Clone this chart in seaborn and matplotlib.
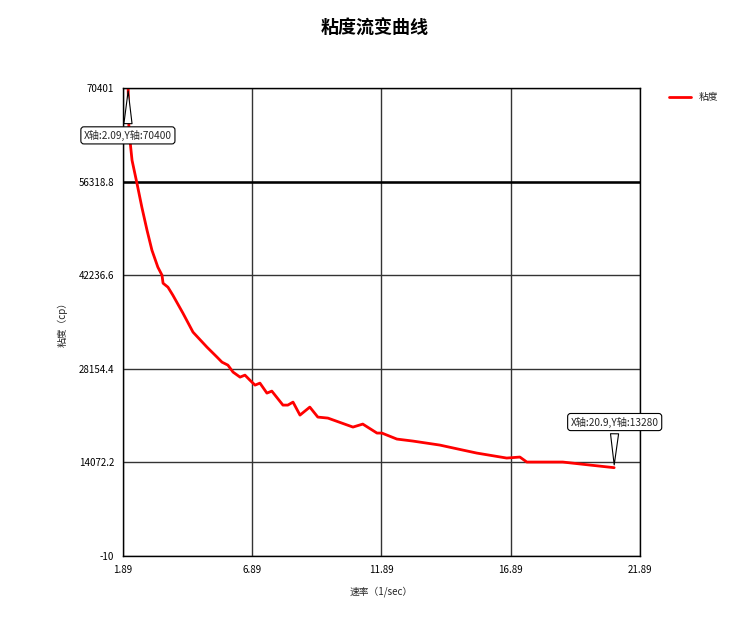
import matplotlib
matplotlib.use("Agg")
import matplotlib.pyplot as plt
import pandas as pd
import seaborn as sns

# shear rate (1/sec) and viscosity (cp)
rate = [2.09, 2.12, 2.24, 2.43, 2.62, 2.82, 3.01, 3.24, 3.40, 3.44, 3.63, 3.82,
        4.21, 4.60, 5.14, 5.53, 5.72, 5.95, 6.15, 6.42, 6.61, 6.80, 7.00, 7.19,
        7.46, 7.65, 8.08, 8.27, 8.47, 8.74, 9.12, 9.43, 9.82, 10.79, 11.17, 11.72,
        11.91, 12.49, 13.11, 14.15, 15.04, 15.58, 16.74, 17.25, 17.52, 18.91,
        19.96, 20.9]
viscosity = [70400, 64060, 59548, 56089, 52480, 49020, 46012, 43456, 42252, 41049,
             40448, 39244, 36537, 33680, 31424, 29920, 29168, 28716, 27664, 26912,
             27212, 26460, 25708, 26009, 24505, 24806, 22700, 22700, 23152, 21196,
             22400, 20896, 20745, 19392, 19843, 18489, 18489, 17587, 17286, 16684,
             15932, 15481, 14729, 14880, 14128, 14128, 13676, 13280]

x_ticks = [1.89, 6.89, 11.89, 16.89, 21.89]
y_ticks = [-10, 14072.2, 28154.4, 42236.6, 56318.8, 70401]
y_tick_labels = ["-10", "14072.2", "28154.4", "42236.6", "56318.8", "70401"]

df = pd.DataFrame({"rate": rate, "viscosity": viscosity})

sns.set_style("white")
plt.rcParams["font.family"] = ["Noto Sans CJK SC", "DejaVu Sans"]

fig = plt.figure(figsize=(7.5, 6.3), dpi=100)
ax = fig.add_axes([0.164, 0.1175, 0.689, 0.7425])

sns.lineplot(data=df, x="rate", y="viscosity", color="red", lw=2,
             sort=False, estimator=None, label="粘度", ax=ax)

ax.set_xlim(1.89, 21.89)
ax.set_ylim(-10, 70401)
ax.set_xticks(x_ticks)
ax.set_xticklabels([str(t) for t in x_ticks])
ax.set_yticks(y_ticks)
ax.set_yticklabels(y_tick_labels)
ax.tick_params(labelsize=7, length=3, colors="black")
ax.grid(True, color="#333333", lw=1)
# the 56318.8 line is drawn heavier in the original
ax.axhline(56318.8, color="black", lw=1.8, zorder=1)
for s in ax.spines.values():
    s.set_color("black")
    s.set_linewidth(1)

ax.set_xlabel("速率（1/sec）", fontsize=7, labelpad=8)
ax.set_ylabel("粘度（cp）", fontsize=7, labelpad=8)

fig.suptitle("粘度流变曲线", y=0.97, fontsize=13, fontweight="bold", color="black")

box = dict(boxstyle="round,pad=0.3", fc="white", ec="black", lw=0.8)
wedge = dict(arrowstyle="wedge,tail_width=0.8", fc="white", ec="black", lw=0.8)
ax.annotate("X轴:2.09,Y轴:70400", xy=(rate[0], viscosity[0]), xytext=(2.08, 63300),
            fontsize=7.3, ha="center", va="center", bbox=box, arrowprops=wedge,
            annotation_clip=False)
ax.annotate("X轴:20.9,Y轴:13280", xy=(rate[-1], viscosity[-1]), xytext=(20.92, 20150),
            fontsize=7.3, ha="center", va="center", bbox=box, arrowprops=wedge,
            annotation_clip=False)

ax.legend(loc="upper left", bbox_to_anchor=(1.04, 1.01), frameon=False,
          fontsize=7, handlelength=2.2)

fig.savefig("out.png", dpi=100)
